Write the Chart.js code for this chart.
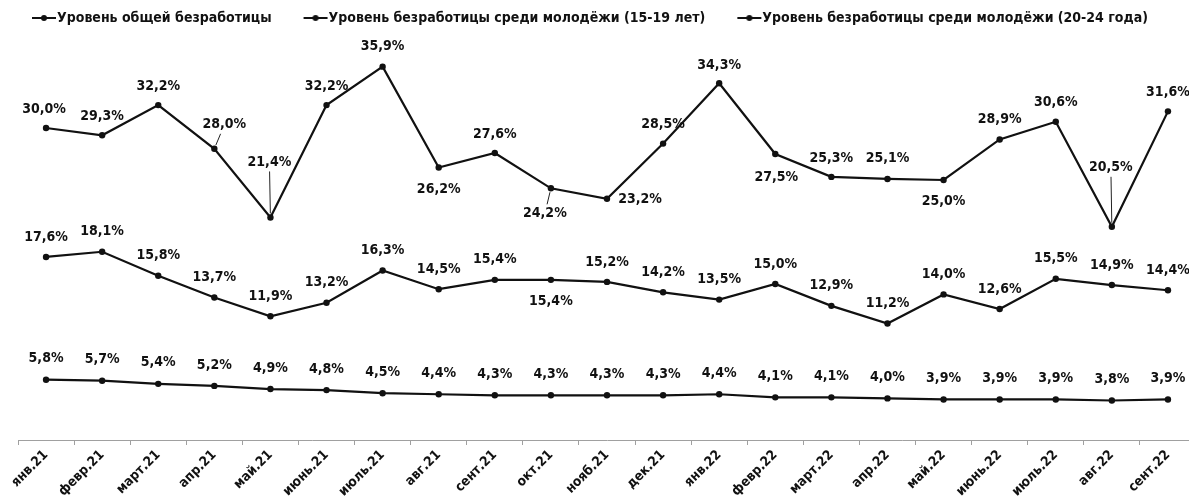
<!DOCTYPE html>
<html><head><meta charset="utf-8">
<script src="https://cdn.jsdelivr.net/npm/chart.js@4.4.1/dist/chart.umd.min.js"></script>
<style>
html,body{margin:0;padding:0;background:#fff;overflow:hidden;width:1189px;height:502px}
#wrap{width:1200px;height:502px;position:relative}
</style></head>
<body><div id="wrap"><canvas id="c" width="1200" height="502"></canvas></div>
<script>
const categories = ['янв.21','февр.21','март.21','апр.21','май.21','июнь.21','июль.21','авг.21','сент.21','окт.21','нояб.21','дек.21','янв.22','февр.22','март.22','апр.22','май.22','июнь.22','июль.22','авг.22','сент.22'];
const seriesNames = ['Уровень общей безработицы','Уровень безработицы среди молодёжи (15-19 лет)','Уровень безработицы среди молодёжи (20-24 года)'];
const totalRate = [5.8,5.7,5.4,5.2,4.9,4.8,4.5,4.4,4.3,4.3,4.3,4.3,4.4,4.1,4.1,4.0,3.9,3.9,3.9,3.8,3.9];
const youth1519 = [17.6,18.1,15.8,13.7,11.9,13.2,16.3,14.5,15.4,15.4,15.2,14.2,13.5,15.0,12.9,11.2,14.0,12.6,15.5,14.9,14.4];
const youth2024 = [30.0,29.3,32.2,28.0,21.4,32.2,35.9,26.2,27.6,24.2,23.2,28.5,34.3,27.5,25.3,25.1,25.0,28.9,30.6,20.5,31.6];

// label placement (offset of value label from its point), not data
const offTotal = categories.map(() => [0, -21]);
const off1519 = categories.map((c, i) => i === 9 ? [0, 22] : [0, -20]);
const off2024 = [[-2,-19],[0,-19],[0,-19],[10,-24],[-1,-55],[0,-19],[0,-20],[0,22],[0,-19],[-6,25],[33,1],[0,-19],[0,-18],[1,23],[0,-19],[0,-21],[0,21],[0,-20],[0,-19],[-1,-59],[0,-19]];
const labelOffsets = [offTotal, off1519, off2024];
const leaderIdx = [[], [], [3,4,9,19]];

const FONT = "'DejaVu Sans Condensed','Liberation Sans Narrow','Roboto Condensed','Open Sans',sans-serif";
const PX_PER_UNIT = 10.4;

function fmt(v){ return v.toFixed(1).replace('.', ',') + '%'; }

function makeMarker(){
  const c = document.createElement('canvas');
  c.width = 56; c.height = 10;
  const g = c.getContext('2d');
  g.strokeStyle = '#111'; g.lineWidth = 2;
  g.beginPath(); g.moveTo(31, 5); g.lineTo(55, 5); g.stroke();
  g.fillStyle = '#111'; g.beginPath(); g.arc(43, 5, 3, 0, Math.PI*2); g.fill();
  return c;
}
const marker = makeMarker();

const labelPlugin = {
  id: 'vlabels',
  afterDatasetsDraw(chart){
    const ctx = chart.ctx;
    ctx.save();
    ctx.font = 'bold 14px ' + FONT;
    ctx.fillStyle = '#111';
    ctx.textAlign = 'center';
    ctx.textBaseline = 'middle';
    chart.data.datasets.forEach((ds, di) => {
      const meta = chart.getDatasetMeta(di);
      meta.data.forEach((pt, i) => {
        const [dx, dy] = labelOffsets[di][i];
        ctx.fillText(fmt(ds.data[i]), pt.x + dx, pt.y + dy);
        if (leaderIdx[di].includes(i)) {
          const len = Math.hypot(dx, dy);
          const f0 = 4 / len, f1 = 1 - 9 / Math.abs(dy);
          ctx.strokeStyle = '#222'; ctx.lineWidth = 1;
          ctx.beginPath();
          ctx.moveTo(pt.x + dx * f0, pt.y + dy * f0);
          ctx.lineTo(pt.x + dx * f1, pt.y + dy * f1);
          ctx.stroke();
        }
      });
    });
    ctx.restore();
  }
};

const mk = (label, data) => ({
  label, data,
  borderColor: '#111', backgroundColor: '#111', borderWidth: 2.2,
  pointRadius: 3.2, pointBackgroundColor: '#111', pointBorderWidth: 0,
  tension: 0, clip: false
});

const chart = new Chart(document.getElementById('c'), {
  type: 'line',
  data: {
    labels: categories,
    datasets: [mk(seriesNames[0], totalRate), mk(seriesNames[1], youth1519), mk(seriesNames[2], youth2024)]
  },
  options: {
    responsive: false, animation: false, devicePixelRatio: 1,
    layout: { padding: { left: 0, right: 1.8, top: 3, bottom: 0 } },
    plugins: {
      tooltip: { enabled: false },
      legend: {
        display: true, position: 'top', align: 'start',
        labels: {
          usePointStyle: true, pointStyleWidth: 42, padding: 8,
          color: '#111', font: { family: FONT, size: 14, weight: 'bold' },
          generateLabels(ch){
            return Chart.defaults.plugins.legend.labels.generateLabels(ch).map(it => Object.assign(it, { pointStyle: marker }));
          }
        }
      }
    },
    scales: {
      x: {
        type: 'category', offset: true,
        grid: { display: true, drawOnChartArea: false, drawTicks: true, tickLength: 5, color: '#a0a0a0', offset: true },
        border: { display: true, color: '#a0a0a0', width: 1 },
        ticks: { autoSkip: false, maxRotation: 45, minRotation: 45, color: '#111', padding: 2, font: { family: FONT, size: 13.5, weight: 'bold' } },
        afterFit(s){ s.height = 62; }
      },
      y: {
        min: 0, max: 40, display: true,
        grid: { display: false }, border: { display: false }, ticks: { display: false },
        afterFit(s){ s.width = 18; }
      }
    }
  },
  plugins: [labelPlugin]
});
const ca = chart.chartArea;
chart.options.scales.y.max = (ca.bottom - ca.top) / PX_PER_UNIT;
chart.update();
</script>
</body></html>
